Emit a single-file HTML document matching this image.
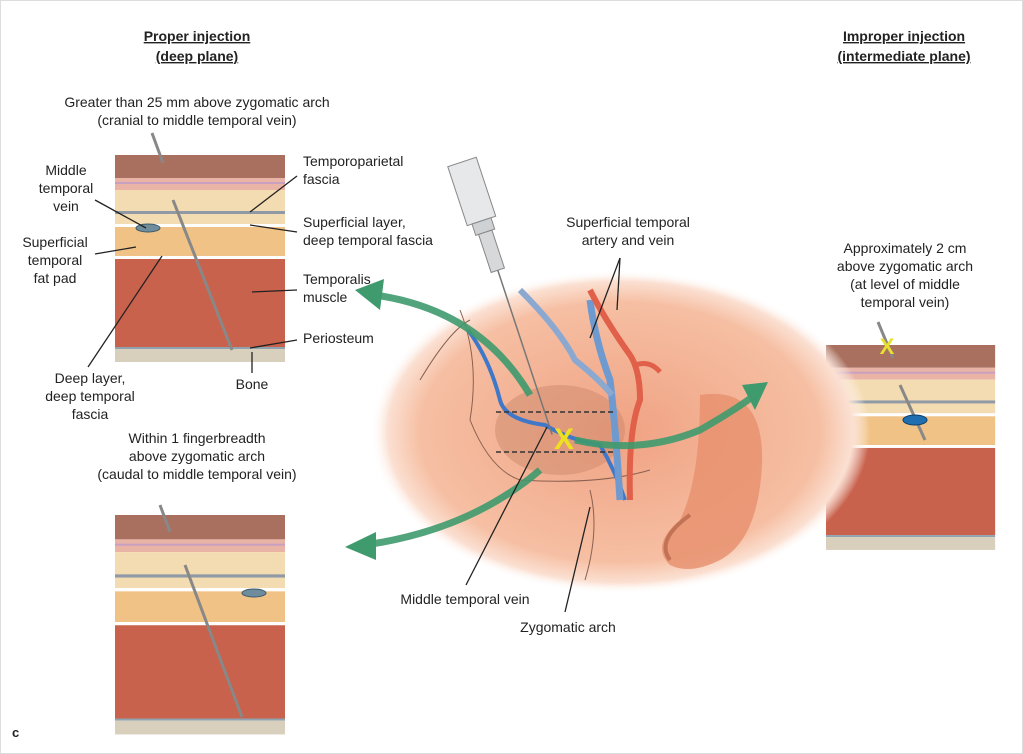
<!DOCTYPE html>
<html><head><meta charset="utf-8"><style>
html,body{margin:0;padding:0;background:#fff}
svg{display:block}
text{font-family:"Liberation Sans",sans-serif;font-size:14px;fill:#222}
.h{font-weight:bold;text-decoration:underline}
</style></head><body>
<svg width="1023" height="754" viewBox="0 0 1023 754" xmlns="http://www.w3.org/2000/svg">
<defs>
<radialGradient id="face" cx="0.5" cy="0.5" r="0.5">
<stop offset="0" stop-color="#f0a283"/><stop offset="0.8" stop-color="#f6bfa3"/><stop offset="0.93" stop-color="#fbe0d2"/><stop offset="1" stop-color="#fff" stop-opacity="0"/>
</radialGradient>
<g id="blk">
<rect x="0" y="0" width="170" height="23" fill="#a9705f"/>
<rect x="0" y="23" width="170" height="12" fill="#e9b4a6"/>
<rect x="0" y="27" width="170" height="2" fill="#c9a0c0"/>
<rect x="0" y="35" width="170" height="34" fill="#f4dcb2"/>
<rect x="0" y="56" width="170" height="3" fill="#8f9aa6"/>
<rect x="0" y="69" width="170" height="3" fill="#fff"/>
<rect x="0" y="72" width="170" height="29" fill="#f1c286"/>
<rect x="0" y="101" width="170" height="3" fill="#fff"/>
<rect x="0" y="104" width="170" height="88" fill="#c9624c"/>
<rect x="0" y="192" width="170" height="2" fill="#8fa2b0"/>
<rect x="0" y="194" width="170" height="13" fill="#d9cfbd"/>
</g>
</defs>
<rect x="0.5" y="0.5" width="1022" height="753" fill="#fff" stroke="#ddd"/>

<text x="197" y="41" text-anchor="middle" class="h">Proper injection</text>
<text x="197" y="61" text-anchor="middle" class="h">(deep plane)</text>
<text x="904" y="41" text-anchor="middle" class="h">Improper injection</text>
<text x="904" y="61" text-anchor="middle" class="h">(intermediate plane)</text>

<use href="#blk" transform="translate(115,155)"/>
<ellipse cx="148" cy="228" rx="12" ry="4" fill="#6f8c9c" stroke="#3d5a6a"/>
<line x1="152" y1="133" x2="163" y2="163" stroke="#888" stroke-width="3"/>
<line x1="173" y1="200" x2="232" y2="350" stroke="#888" stroke-width="3"/>
<text x="197" y="107" text-anchor="middle">Greater than 25 mm above zygomatic arch</text>
<text x="197" y="125" text-anchor="middle">(cranial to middle temporal vein)</text>
<text x="66" y="175" text-anchor="middle">Middle</text>
<text x="66" y="193" text-anchor="middle">temporal</text>
<text x="66" y="211" text-anchor="middle">vein</text>
<text x="55" y="247" text-anchor="middle">Superficial</text>
<text x="55" y="265" text-anchor="middle">temporal</text>
<text x="55" y="283" text-anchor="middle">fat pad</text>
<text x="303" y="166">Temporoparietal</text>
<text x="303" y="184">fascia</text>
<text x="303" y="227">Superficial layer,</text>
<text x="303" y="245">deep temporal fascia</text>
<text x="303" y="284">Temporalis</text>
<text x="303" y="302">muscle</text>
<text x="303" y="343">Periosteum</text>
<text x="252" y="389" text-anchor="middle">Bone</text>
<text x="90" y="383" text-anchor="middle">Deep layer,</text>
<text x="90" y="401" text-anchor="middle">deep temporal</text>
<text x="90" y="419" text-anchor="middle">fascia</text>
<g stroke="#222" stroke-width="1.3">
<line x1="95" y1="200" x2="146" y2="228"/>
<line x1="95" y1="254" x2="136" y2="247"/>
<line x1="297" y1="176" x2="250" y2="212"/>
<line x1="297" y1="232" x2="250" y2="225"/>
<line x1="297" y1="290" x2="252" y2="292"/>
<line x1="297" y1="340" x2="250" y2="348"/>
<line x1="252" y1="352" x2="252" y2="373"/>
<line x1="88" y1="367" x2="162" y2="256"/>
</g>

<text x="197" y="443" text-anchor="middle">Within 1 fingerbreadth</text>
<text x="197" y="461" text-anchor="middle">above zygomatic arch</text>
<text x="197" y="479" text-anchor="middle">(caudal to middle temporal vein)</text>
<use href="#blk" transform="translate(115,515) scale(1,1.06)"/>
<ellipse cx="254" cy="593" rx="12" ry="4" fill="#6f8c9c" stroke="#3d5a6a"/>
<line x1="160" y1="505" x2="170" y2="532" stroke="#888" stroke-width="3"/>
<line x1="185" y1="565" x2="242" y2="717" stroke="#888" stroke-width="3"/>

<text x="905" y="253" text-anchor="middle">Approximately 2 cm</text>
<text x="905" y="271" text-anchor="middle">above zygomatic arch</text>
<text x="905" y="289" text-anchor="middle">(at level of middle</text>
<text x="905" y="307" text-anchor="middle">temporal vein)</text>
<use href="#blk" transform="translate(826,345) scale(0.995,0.99)"/>
<line x1="878" y1="322" x2="893" y2="358" stroke="#888" stroke-width="3"/>
<line x1="900" y1="385" x2="925" y2="440" stroke="#888" stroke-width="3"/>
<ellipse cx="915" cy="420" rx="12" ry="5" fill="#1f6fb0" stroke="#0d3d66"/>
<text x="887" y="354" text-anchor="middle" style="font-size:22px;fill:#e8e030;font-weight:bold">X</text>

<!-- center face -->
<ellipse cx="620" cy="432" rx="250" ry="162" fill="url(#face)"/>
<ellipse cx="560" cy="430" rx="65" ry="45" fill="#c98468" opacity="0.45"/>
<path d="M700 395 Q765 385 762 465 Q758 540 720 560 Q690 575 670 565 Q650 545 680 520 Q700 480 700 395Z" fill="#e89270" opacity="0.85"/>
<path d="M670 560 Q655 540 690 515" fill="none" stroke="#a85a40" stroke-width="4" opacity="0.6"/>
<path d="M460 310 Q480 360 470 420 Q490 470 520 480 Q600 485 650 470" fill="none" stroke="#8a6050" stroke-width="1"/>
<path d="M590 490 Q600 530 585 580" fill="none" stroke="#8a6050" stroke-width="1"/>
<path d="M420 380 Q450 330 470 320" fill="none" stroke="#8a6050" stroke-width="1"/>
<path d="M468 330 Q490 360 500 400 Q505 420 545 425 Q570 440 600 445 Q615 470 625 500" fill="none" stroke="#3f78c8" stroke-width="4"/>
<path d="M590 300 Q595 340 610 380 Q615 420 620 500" fill="none" stroke="#6f9ad0" stroke-width="7"/>
<path d="M520 290 Q560 330 575 360 Q600 380 612 395" fill="none" stroke="#8aa8d0" stroke-width="6"/>
<path d="M590 290 Q605 320 630 355 Q640 370 640 400 Q628 430 630 500" fill="none" stroke="#e0604a" stroke-width="6"/>
<path d="M635 365 Q650 360 660 372" fill="none" stroke="#e0604a" stroke-width="5"/>
<line x1="496" y1="412" x2="616" y2="412" stroke="#333" stroke-width="1.5" stroke-dasharray="5,3"/>
<line x1="496" y1="452" x2="616" y2="452" stroke="#333" stroke-width="1.5" stroke-dasharray="5,3"/>
<!-- syringe -->
<g transform="translate(462,162) rotate(-18.3)">
<rect x="-15" y="0" width="30" height="62" fill="#e6e8ea" stroke="#888"/>
<rect x="-10" y="62" width="20" height="12" fill="#cfd2d5" stroke="#888"/>
<rect x="-7" y="74" width="14" height="40" fill="#d6d8da" stroke="#888"/>
<line x1="0" y1="114" x2="0" y2="287" stroke="#777" stroke-width="1.5"/>
</g>
<text x="564" y="449" text-anchor="middle" style="font-size:30px;fill:#ece020;font-weight:bold">X</text>
<g fill="none" stroke="#3f9a6e" stroke-width="7" opacity="0.9">
<path d="M530 395 Q480 310 375 295"/>
<path d="M540 470 Q470 530 365 545"/>
<path d="M575 440 Q640 455 700 430 Q735 410 755 395"/>
</g>
<polygon points="355,290 384,279 380,310" fill="#3f9a6e"/>
<polygon points="345,547 376,532 376,560" fill="#3f9a6e"/>
<polygon points="768,382 742,385 755,410" fill="#3f9a6e"/>
<text x="628" y="227" text-anchor="middle">Superficial temporal</text>
<text x="628" y="245" text-anchor="middle">artery and vein</text>
<g stroke="#222" stroke-width="1.3">
<line x1="620" y1="258" x2="590" y2="338"/>
<line x1="620" y1="258" x2="617" y2="310"/>
<line x1="547" y1="427" x2="466" y2="585"/>
<line x1="590" y1="507" x2="565" y2="612"/>
</g>
<text x="465" y="604" text-anchor="middle">Middle temporal vein</text>
<text x="568" y="632" text-anchor="middle">Zygomatic arch</text>
<text x="12" y="737" style="font-weight:bold;font-size:13px">c</text>
</svg>
</body></html>
